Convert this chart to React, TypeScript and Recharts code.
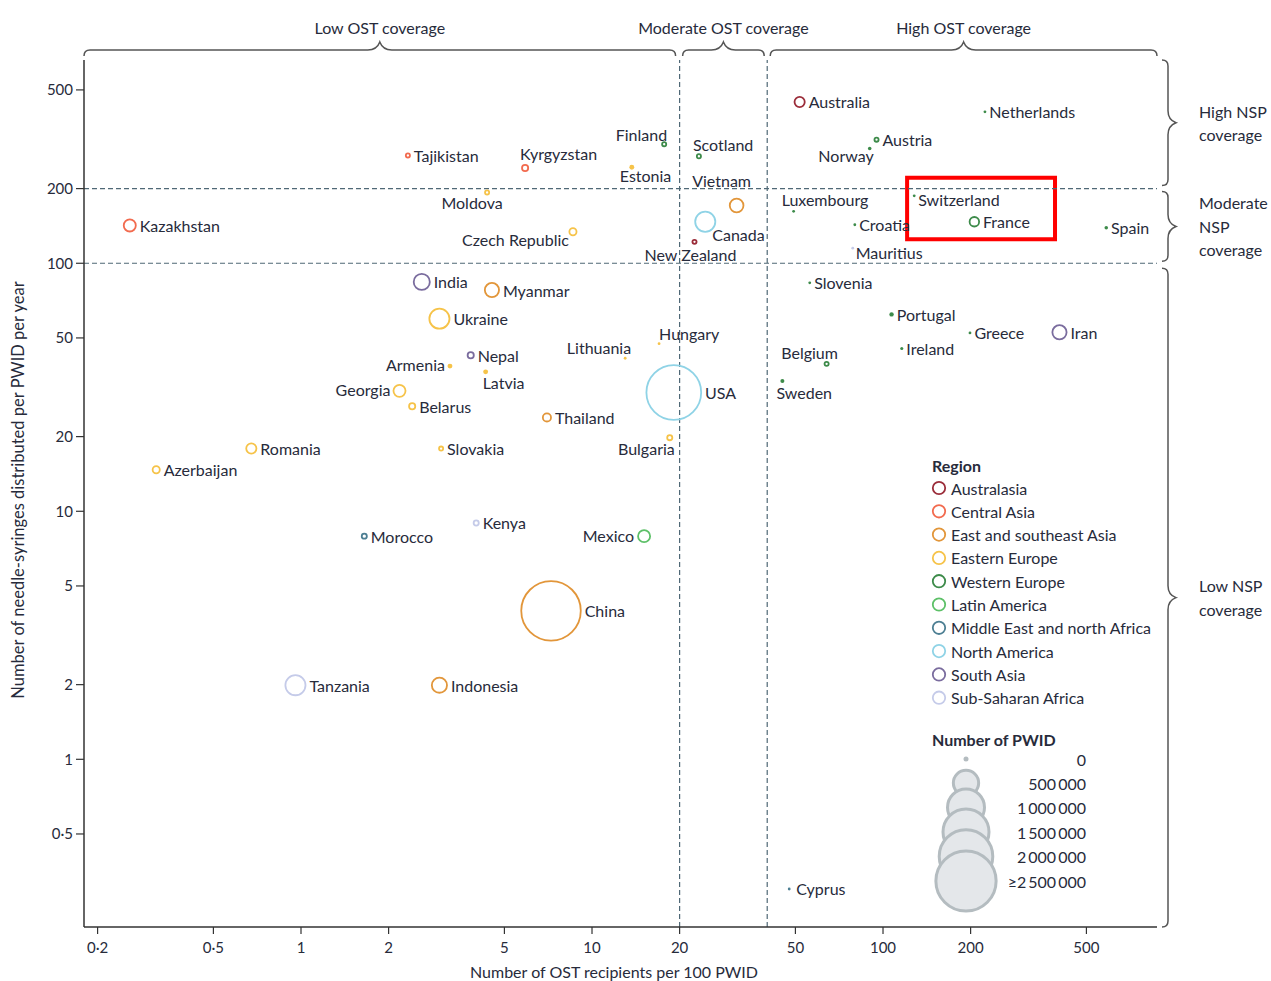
import React from 'react';
import {
  ScatterChart, Scatter, XAxis, YAxis, ReferenceLine, ReferenceArea, Customized
} from 'recharts';

const FONT = 'Lato, "Noto Sans", sans-serif';
const INK = '#272b3b';
const GRID = '#4f6876';

// regions and their colours
const regions = [
  'Australasia', 'Central Asia', 'East and southeast Asia', 'Eastern Europe', 'Western Europe',
  'Latin America', 'Middle East and north Africa', 'North America', 'South Asia', 'Sub-Saharan Africa'
];
const regionColors = [
  '#9b2d3a', '#f26b4f', '#e2963a', '#f6c349', '#3d8b4a',
  '#5dc068', '#4d7f93', '#8fd3e6', '#7a6c9e', '#c5cbe9'
];

// country values
const countries = [
  'Australia', 'New Zealand', 'Tajikistan', 'Kyrgyzstan', 'Kazakhstan',
  'Vietnam', 'Myanmar', 'Thailand', 'China', 'Indonesia',
  'Estonia', 'Moldova', 'Czech Republic', 'Ukraine', 'Armenia', 'Latvia', 'Lithuania', 'Hungary',
  'Georgia', 'Belarus', 'Bulgaria', 'Romania', 'Slovakia', 'Azerbaijan',
  'Finland', 'Scotland', 'Netherlands', 'Austria', 'Norway', 'Luxembourg', 'Switzerland', 'Croatia',
  'France', 'Spain', 'Slovenia', 'Portugal', 'Greece', 'Ireland', 'Belgium', 'Sweden', 'Cyprus',
  'Mexico', 'Morocco', 'Iran', 'Canada', 'USA', 'India', 'Nepal', 'Kenya', 'Tanzania', 'Mauritius'
];
const countryRegion = [
  'Australasia', 'Australasia', 'Central Asia', 'Central Asia', 'Central Asia',
  'East and southeast Asia', 'East and southeast Asia', 'East and southeast Asia', 'East and southeast Asia', 'East and southeast Asia',
  'Eastern Europe', 'Eastern Europe', 'Eastern Europe', 'Eastern Europe', 'Eastern Europe', 'Eastern Europe', 'Eastern Europe', 'Eastern Europe',
  'Eastern Europe', 'Eastern Europe', 'Eastern Europe', 'Eastern Europe', 'Eastern Europe', 'Eastern Europe',
  'Western Europe', 'Western Europe', 'Western Europe', 'Western Europe', 'Western Europe', 'Western Europe', 'Western Europe', 'Western Europe',
  'Western Europe', 'Western Europe', 'Western Europe', 'Western Europe', 'Western Europe', 'Western Europe', 'Western Europe', 'Western Europe', 'Middle East and north Africa',
  'Latin America', 'Middle East and north Africa', 'South Asia', 'North America', 'North America', 'South Asia', 'South Asia',
  'Sub-Saharan Africa', 'Sub-Saharan Africa', 'Sub-Saharan Africa'
];
const ostPer100 = [
  51.7, 22.5, 2.33, 5.89, 0.258,
  31.4, 4.53, 7.0, 7.23, 2.99,
  13.7, 4.36, 8.6, 2.99, 3.25, 4.31, 13.0, 17.0,
  2.18, 2.41, 18.5, 0.675, 3.03, 0.318,
  17.7, 23.3, 224, 95, 90, 49.3, 128, 80,
  206, 585, 56, 107, 199, 116, 64, 45.1, 47.6,
  15.1, 1.65, 404, 24.5, 19.1, 2.6, 3.83, 4.0, 0.957, 78.7
];
const nspPerPwid = [
  447, 122, 272, 242, 142,
  171, 78, 23.9, 3.97, 1.99,
  244, 193, 134, 59.8, 38.5, 36.5, 41.4, 47.4,
  30.6, 26.5, 19.8, 17.9, 17.9, 14.7,
  302, 270, 408, 315, 290, 162, 187, 143,
  147, 139, 83.4, 62.2, 52.4, 45.3, 39.3, 33.5, 0.3,
  7.94, 7.94, 52.7, 147, 30.1, 84.1, 42.6, 8.97, 1.99, 115
];
const pwidCount = [
  90000, 22000, 22000, 40000, 120000,
  150000, 160000, 62000, 2350000, 180000,
  15000, 22000, 50000, 300000, 15000, 15000, 5000, 5000,
  120000, 40000, 30000, 90000, 22000, 50000,
  22000, 22000, 3000, 22000, 8000, 4000, 3000, 3000,
  80000, 8000, 3000, 12000, 4000, 6000, 22000, 10000, 1000,
  120000, 30000, 160000, 300000, 2000000, 200000, 40000, 30000, 300000, 4000
];

const xTicks = [0.2, 0.5, 1, 2, 5, 10, 20, 50, 100, 200, 500];
const yTicks = [0.5, 1, 2, 5, 10, 20, 50, 100, 200, 500];
const sizeLegend = [0, 500000, 1000000, 1500000, 2000000, 2500000];
const sizeLegendLabels = ['0', '500\u2009000', '1\u2009000\u2009000', '1\u2009500\u2009000', '2\u2009000\u2009000', '\u22652\u2009500\u2009000'];

const rows = countries.map((country, i) => ({
  country, region: countryRegion[i], ost: ostPer100[i], nsp: nspPerPwid[i], pwid: pwidCount[i]
}));

const X_DOMAIN: [number, number] = [0.1796, 874];
const Y_DOMAIN: [number, number] = [0.2108, 660];

const rFromPwid = (n: number) => Math.max(1.4, 20 * Math.sqrt(n / 1e6));

// label placement: [anchor, dx, dy] relative to the marker centre
const labelPlacement: Record<string, [string, number, number]> = {
  Norway: ['end', 4, 7],
  Finland: ['end', 3, -10],
  Scotland: ['start', -6, -12],
  Estonia: ['start', -12, 8],
  Vietnam: ['middle', -15, -25],
  Canada: ['start', 7, 13],
  'New Zealand': ['middle', -4, 13],
  Luxembourg: ['start', -12, -12],
  Switzerland: ['start', 4, 4],
  Mauritius: ['start', 3, 4],
  Kyrgyzstan: ['start', -5, -15],
  Moldova: ['middle', -15, 10],
  'Czech Republic': ['end', -4, 8],
  Armenia: ['end', -5, -2],
  Latvia: ['start', -3, 11],
  Lithuania: ['end', 6, -11],
  Hungary: ['start', 0, -10],
  Georgia: ['end', -9, -1],
  Bulgaria: ['end', 5, 11],
  Mexico: ['end', -10, -1],
  Belgium: ['middle', -17, -11],
  Sweden: ['start', -6, 11],
  Cyprus: ['start', 7, 0],
};

const Bubble = (props: any) => {
  const { cx, cy, payload, color } = props;
  if (cx == null || cy == null) return null;
  const r = rFromPwid(payload.pwid);
  const place = labelPlacement[payload.country];
  const anchor = place ? place[0] : 'start';
  const dx = place ? place[1] : r + 3;
  const dy = place ? place[2] : 0;
  return (
    <g>
      {r < 2.6
        ? <circle cx={cx} cy={cy} r={r} fill={color} />
        : <circle cx={cx} cy={cy} r={r - 0.9} fill="none" stroke={color} strokeWidth={1.8} />}
      <text x={cx + dx} y={cy + dy} textAnchor={anchor as any} dominantBaseline="central"
        fontSize={16} fill={INK} fontFamily={FONT}>{payload.country}</text>
    </g>
  );
};

const topBrace = (label: string, insetL: number, insetR: number) => (p: any) => {
  const x1 = p.x + insetL, x2 = p.x + p.width - insetR, y0 = p.y - 10, mid = (x1 + x2) / 2;
  const d = `M${x1},${y0 + 6} Q${x1},${y0} ${x1 + 6},${y0} L${mid - 12},${y0} Q${mid - 3},${y0} ${mid},${y0 - 8} ` +
    `Q${mid + 3},${y0} ${mid + 12},${y0} L${x2 - 6},${y0} Q${x2},${y0} ${x2},${y0 + 6}`;
  return (
    <g>
      <path d={d} fill="none" stroke="#555" strokeWidth={1.5} />
      <text x={mid} y={p.y - 33} textAnchor="middle" dominantBaseline="central" fontSize={16}
        fill={INK} fontFamily={FONT}>{label}</text>
    </g>
  );
};

const rightBrace = (lines: string[], insetT: number, insetB: number) => (p: any) => {
  const y1 = p.y + insetT, y2 = p.y + p.height - insetB, x0 = p.x + p.width + 11, mid = (y1 + y2) / 2;
  const d = `M${x0 - 6},${y1} Q${x0},${y1} ${x0},${y1 + 6} L${x0},${mid - 12} Q${x0},${mid - 3} ${x0 + 8},${mid} ` +
    `Q${x0},${mid + 3} ${x0},${mid + 12} L${x0},${y2 - 6} Q${x0},${y2} ${x0 - 6},${y2}`;
  const start = mid - ((lines.length - 1) * 23.5) / 2;
  return (
    <g>
      <path d={d} fill="none" stroke="#555" strokeWidth={1.5} />
      {lines.map((t, i) => (
        <text key={t} x={x0 + 31} y={start + i * 23.5} dominantBaseline="central" fontSize={16}
          fill={INK} fontFamily={FONT}>{t}</text>
      ))}
    </g>
  );
};

const Overlay = () => (
  <g fontFamily={FONT} fill={INK}>
    <text transform="translate(18,490) rotate(-90)" textAnchor="middle" dominantBaseline="central" fontSize={16.5}>
      Number of needle-syringes distributed per PWID per year
    </text>
    <text x={614} y={971} textAnchor="middle" dominantBaseline="central" fontSize={16}>
      Number of OST recipients per 100 PWID
    </text>
    <text x={932} y={465} dominantBaseline="central" fontSize={16} fontWeight="bold">Region</text>
    {regions.map((r, i) => (
      <g key={r}>
        <circle cx={939} cy={488 + i * 23.3} r={6.2} fill="none" stroke={regionColors[i]} strokeWidth={1.8} />
        <text x={951} y={488 + i * 23.3} dominantBaseline="central" fontSize={16}>{r}</text>
      </g>
    ))}
    <text x={932} y={739} dominantBaseline="central" fontSize={16} fontWeight="bold">Number of PWID</text>
    {sizeLegend.map((n, i) => {
      const cy = i === 0 ? 759 : 783 + (i - 1) * 24.5;
      const r = n === 0 ? 2.5 : rFromPwid(n);
      return n === 0
        ? <circle key={n} cx={966} cy={cy} r={r} fill="#b4bcc0" />
        : <circle key={n} cx={966} cy={cy} r={r - 1.5} fill="#e4e7ea" stroke="#b4bcc0" strokeWidth={3} />;
    })}
    {sizeLegendLabels.map((t, i) => (
      <text key={t} x={1086} y={i === 0 ? 759 : 783 + (i - 1) * 24.5} textAnchor="end"
        dominantBaseline="central" fontSize={16}>{t}</text>
    ))}
  </g>
);

const fmt = (v: number) => String(v).replace('.', '\u00b7');

export default function App() {
  return (
    <div style={{ position: 'absolute', left: 0, top: 0, width: 1271, height: 981, background: '#fff' }}>
      <ScatterChart width={1271} height={981} margin={{ top: 60, right: 114, bottom: 24, left: 24 }}
        style={{ fontFamily: FONT }}>
        <XAxis type="number" dataKey="ost" scale="log" domain={X_DOMAIN} allowDataOverflow ticks={xTicks}
          tickFormatter={fmt} height={30} tickSize={7} tickMargin={8}
          axisLine={{ stroke: '#333', strokeWidth: 1.5 }} tickLine={{ stroke: '#333', strokeWidth: 1.2 }}
          tick={{ fill: INK, fontSize: 15, fontFamily: FONT }} interval={0} />
        <YAxis type="number" dataKey="nsp" scale="log" domain={Y_DOMAIN} allowDataOverflow ticks={yTicks}
          tickFormatter={fmt} width={60} tickSize={8} tickMargin={3}
          axisLine={{ stroke: '#333', strokeWidth: 1.5 }} tickLine={{ stroke: '#333', strokeWidth: 1.2 }}
          tick={{ fill: INK, fontSize: 15, fontFamily: FONT }} interval={0} />
        <ReferenceLine x={20} stroke={GRID} strokeDasharray="5 3" strokeWidth={1.2} />
        <ReferenceLine x={40} stroke={GRID} strokeDasharray="5 3" strokeWidth={1.2} />
        <ReferenceLine y={100} stroke={GRID} strokeDasharray="5 3" strokeWidth={1.2} />
        <ReferenceLine y={200} stroke={GRID} strokeDasharray="5 3" strokeWidth={1.2} />
        <ReferenceArea x1={X_DOMAIN[0]} x2={20} ifOverflow="visible" shape={topBrace('Low OST coverage', 0, 4)} />
        <ReferenceArea x1={20} x2={40} ifOverflow="visible" shape={topBrace('Moderate OST coverage', 3, 3)} />
        <ReferenceArea x1={40} x2={X_DOMAIN[1]} ifOverflow="visible" shape={topBrace('High OST coverage', 3, 0)} />
        <ReferenceArea y1={200} y2={Y_DOMAIN[1]} ifOverflow="visible" shape={rightBrace(['High NSP', 'coverage'], 0, 3)} />
        <ReferenceArea y1={100} y2={200} ifOverflow="visible" shape={rightBrace(['Moderate', 'NSP', 'coverage'], 3, 2)} />
        <ReferenceArea y1={Y_DOMAIN[0]} y2={100} ifOverflow="visible" shape={rightBrace(['Low NSP', 'coverage'], 5, 0)} />
        {regions.map((reg, i) => (
          <Scatter key={reg} name={reg} data={rows.filter(d => d.region === reg)} isAnimationActive={false}
            shape={(p: any) => <Bubble {...p} color={regionColors[i]} />} />
        ))}
        <ReferenceArea x1={121} x2={390} y1={125} y2={221} ifOverflow="visible" fill="none"
          stroke="#ff0000" strokeWidth={4} fillOpacity={0} />
        <Customized component={Overlay} />
      </ScatterChart>
    </div>
  );
}
